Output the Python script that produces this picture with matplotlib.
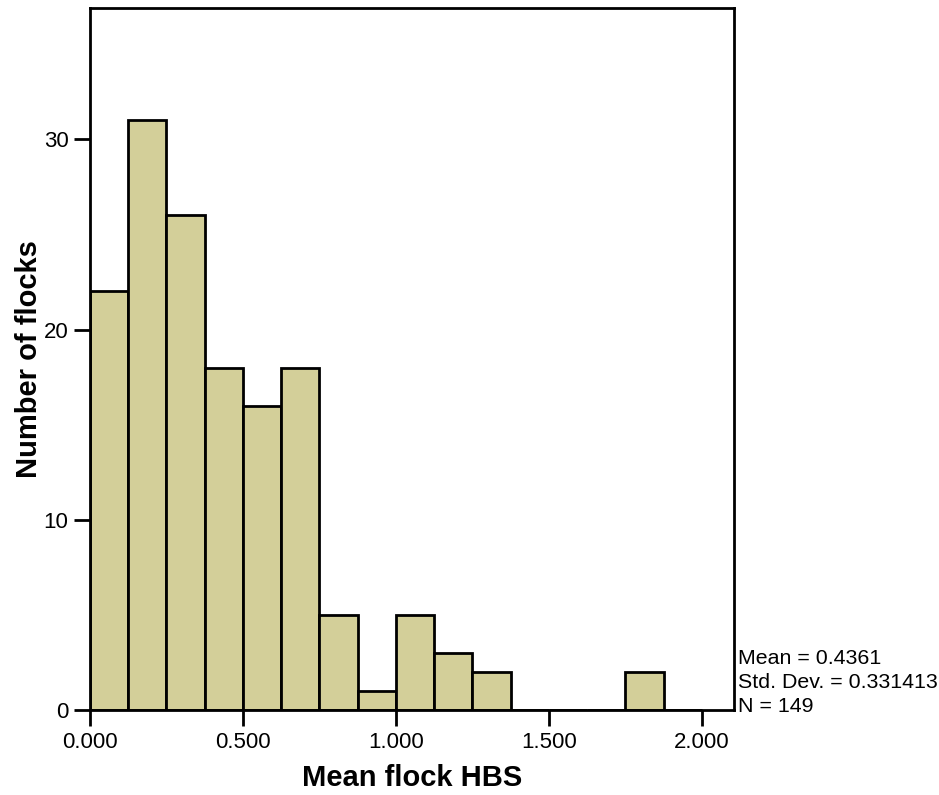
import numpy as np
import matplotlib.pyplot as plt

plt.rcParams['font.family'] = ['Liberation Sans', 'DejaVu Sans']

# histogram of mean flock HBS, bins of width 0.125
bin_edges = np.arange(0, 2.0 + 0.0001, 0.125)
counts = [22, 31, 26, 18, 16, 18, 5, 1, 5, 3, 2, 0, 0, 0, 2, 0]
x_ticks = [0.0, 0.5, 1.0, 1.5, 2.0]
x_labels = ["0.000", "0.500", "1.000", "1.500", "2.000"]
y_ticks = [0, 10, 20, 30]
stats = "Mean = 0.4361\nStd. Dev. = 0.331413\nN = 149"

fig = plt.figure(figsize=(9.39, 7.95), dpi=100)
ax = fig.add_axes([0.0958, 0.1069, 0.686, 0.883])

ax.bar(bin_edges[:-1], counts, width=0.125, align='edge',
       color='#d3cf99', edgecolor='black', linewidth=2, zorder=2)

ax.set_xlim(0, 2.105)
ax.set_ylim(0, 36.9)
ax.set_xticks(x_ticks)
ax.set_xticklabels(x_labels)
ax.set_yticks(y_ticks)
ax.tick_params(direction='out', length=11.5, width=2, labelsize=16, pad=4)
for s in ax.spines.values():
    s.set_linewidth(2)

ax.set_xlabel("Mean flock HBS", fontsize=21, fontweight='bold', labelpad=8)
ax.set_ylabel("Number of flocks", fontsize=21, fontweight='bold', labelpad=0.5)

fig.text(0.786, 0.1, stats, fontsize=15.4, ha='left', va='bottom',
         linespacing=1.31)

fig.savefig("out.png", dpi=100)
